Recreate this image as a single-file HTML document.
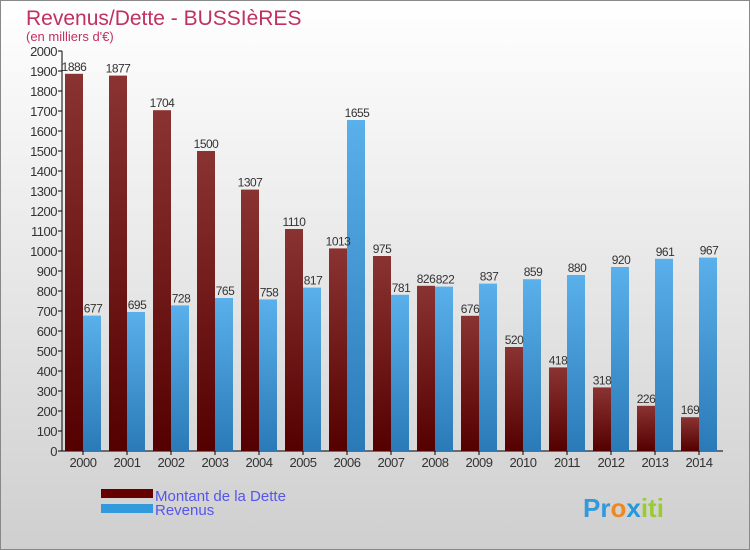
<!DOCTYPE html>
<html><head><meta charset="utf-8"><style>
body{margin:0}
#c{width:748px;height:548px;border:1px solid #888;position:relative;background:linear-gradient(#fff,#cfcfcf);font-family:"Liberation Sans",sans-serif;overflow:hidden}
</style></head><body>
<div id="c">
<svg id="s" width="748" height="548" style="position:absolute;left:0;top:0">
<defs>
<linearGradient id="gd" x1="0" y1="0" x2="0" y2="1"><stop offset="0" stop-color="#8a3333"/><stop offset="1" stop-color="#550000"/></linearGradient>
<linearGradient id="gr" x1="0" y1="0" x2="0" y2="1"><stop offset="0" stop-color="#5ab0ea"/><stop offset="1" stop-color="#2a7ab8"/></linearGradient>
</defs>
<text x="25" y="24" font-size="21" fill="#c03060">Revenus/Dette - BUSSIèRES</text>
<text x="25" y="40" font-size="13" fill="#c03060">(en milliers d'€)</text>
<g id="ax"></g><g id="bars"></g>
<rect x="100" y="488" width="52" height="9" fill="#660000"/>
<rect x="100" y="503" width="52" height="9" fill="#3399dd"/>
<text x="154" y="500" font-size="15" fill="#5555ee">Montant de la Dette</text>
<text x="154" y="514" font-size="15" fill="#5555ee">Revenus</text>
<text x="582" y="516" font-size="26" font-weight="bold" fill="#3399dd"><tspan fill="#3399dd">Pr</tspan><tspan fill="#ee8822">o</tspan><tspan fill="#2299dd">x</tspan><tspan fill="#99cc33">iti</tspan></text>
</svg></div>
<script>
const years=[2000,2001,2002,2003,2004,2005,2006,2007,2008,2009,2010,2011,2012,2013,2014];
const dette=[1886,1877,1704,1500,1307,1110,1013,975,826,676,520,418,318,226,169];
const revenus=[677,695,728,765,758,817,1655,781,822,837,859,880,920,961,967];
const ticks=[0,100,200,300,400,500,600,700,800,900,1000,1100,1200,1300,1400,1500,1600,1700,1800,1900,2000];
const NS="http://www.w3.org/2000/svg";
const y=v=>450-v*0.2, gx=i=>64+i*44;
function mk(t,a,p,txt){const e=document.createElementNS(NS,t);for(const k in a)e.setAttribute(k,a[k]);if(txt!==undefined)e.textContent=txt;p.appendChild(e);return e;}
const ax=document.getElementById('ax'),bars=document.getElementById('bars');
let l=mk('line',{x1:61,y1:50,x2:61,y2:450,stroke:'#000'},ax);


l=mk('line',{x1:61,y1:450,x2:722,y2:450,stroke:'#000'},ax);


ticks.forEach(t=>{mk('line',{x1:57,y1:y(t),x2:61,y2:y(t),stroke:'#000'},ax);
const e=mk('text',{x:56,y:y(t)+5,'font-size':13,'text-anchor':'end',fill:'#333','letter-spacing':'-0.5'},ax,t);

});
years.forEach((yr,i)=>{
const x=gx(i);
mk('line',{x1:x+18,y1:450,x2:x+18,y2:454,stroke:'#000'},ax);
let e=mk('text',{x:x+18,y:466,'font-size':13,'text-anchor':'middle',fill:'#333','letter-spacing':'-0.5'},ax,yr);


e=mk('rect',{x:x,y:y(dette[i]),width:18,height:dette[i]*0.2,fill:'url(#gd)'},bars);


e=mk('rect',{x:x+18,y:y(revenus[i]),width:18,height:revenus[i]*0.2,fill:'url(#gr)'},bars);


e=mk('text',{x:x+9,y:y(dette[i])-3,'font-size':12,'text-anchor':'middle',fill:'#333','letter-spacing':'-0.5'},bars,dette[i]);


e=mk('text',{x:x+28,y:y(revenus[i])-3,'font-size':12,'text-anchor':'middle',fill:'#333','letter-spacing':'-0.5'},bars,revenus[i]);


});
</script>
</body></html>
